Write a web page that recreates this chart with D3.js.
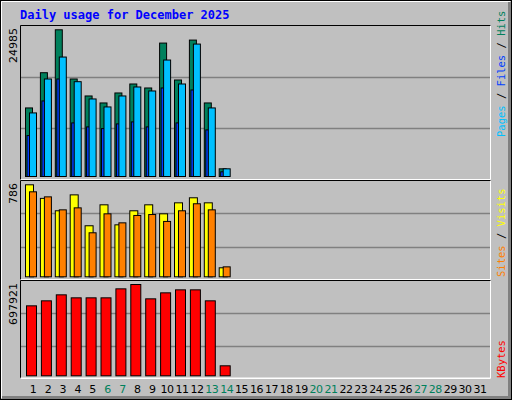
<!DOCTYPE html>
<html><head><meta charset="utf-8">
<script src="https://cdn.jsdelivr.net/npm/d3@7"></script>
<style>body{margin:0;background:#fff}svg{display:block}</style>
</head><body>
<script>
const days = d3.range(1, 32);
const weekendDays = [6,7,13,14,20,21,27,28];
const hits  = [11677,17676,24985,16606,13716,12526,14226,15756,15076,22724,16436,23234,12526,1309];
const pages = [10827,16606,20345,16147,13206,11847,13716,15246,14566,19835,15756,22554,11677,1309];
const files = [6969,12866,16606,9127,8447,8158,8957,9297,8447,15076,9127,14736,7937,799];
const visits = [786,670,564,700,436,615,444,564,615,538,632,675,632,77];
const sites  = [726,683,572,589,376,538,461,524,532,473,564,624,572,85];
const kbytes = [534870,573075,618921,595998,595998,595998,664767,697921,588357,634203,657126,657126,573075,76410];
const maxLabels = ["24985","786","697921"];

const W=512,H=400;
const svg=d3.select("body").append("svg").attr("width",W).attr("height",H);
// background and bevels
svg.append("rect").attr("x",0).attr("y",0).attr("width",W).attr("height",H).attr("fill","#c0c0c0");
svg.append("rect").attr("x",0.5).attr("y",0.5).attr("width",W-1).attr("height",H-1).attr("fill","none").attr("stroke","#000");
svg.append("path").attr("d","M1.5,398V1.5H510").attr("stroke","#fff").attr("fill","none");
svg.append("path").attr("d","M2,397.5H509.5V2").attr("stroke","#808080").attr("stroke-width",3).attr("fill","none");

svg.append("text").attr("x",20).attr("y",19).text("Daily usage for December 2025")
  .attr("fill","#0000ff").attr("font-family","DejaVu Sans Mono").attr("font-weight","bold").attr("font-size",12);

const x=d3.scaleLinear().domain([1,31]).range([33,480]);
const L=20,R=491;

const panels=[
 {top:25,bot:180,base:176,maxY:29.3,max:24985},
 {top:180,bot:280,base:276.3,maxY:184.3,max:786},
 {top:280,bot:378.5,base:375.3,maxY:284,max:697921}
];
panels.forEach((p,i)=>{
  p.y=d3.scaleLinear().domain([0,p.max]).range([p.base,p.maxY]);
  const g=svg.append("g");
  const h=p.bot-p.top;
  [1/3,2/3].forEach(f=>{
    const gy=Math.round(p.top+h*f)+0.5;
    g.append("line").attr("x1",L).attr("x2",R).attr("y1",gy).attr("y2",gy).attr("stroke","#808080").attr("stroke-width",1.5);
  });
  svg.append("text").attr("transform",`translate(${L-3},${p.top+3}) rotate(-90)`).attr("text-anchor","end")
    .attr("font-family","DejaVu Sans").attr("font-size",11).text(maxLabels[i]);
});

function bars(panel,data,dx,w,color){
  svg.append("g").selectAll("rect").data(data).join("rect")
   .attr("x",(d,i)=>x(i+1)+dx+0.5).attr("width",w)
   .attr("y",d=>panel.y(d)+0.5).attr("height",d=>panel.base-panel.y(d))
   .attr("fill",color).attr("stroke","#000").attr("stroke-width",1);
}
const P=panels;
bars(P[0],hits,-8,7,"#00805c");
bars(P[0],files,-6.5,3,"#0040ff");
bars(P[0],pages,-4,7,"#00c0ff");
bars(P[1],visits,-8,8,"#ffff00");
bars(P[1],sites,-4,7,"#ff8000");
bars(P[2],kbytes,-7,10,"#ff0000");

// panel frames
panels.forEach(p=>{
  svg.append("path").attr("d",`M${L+0.5},${p.bot}V${p.top+0.5}H${R}`).attr("stroke","#000").attr("fill","none");
  svg.append("path").attr("d",`M${L+0.5},${p.bot-0.5}H${R-0.5}V${p.top+0.5}`).attr("stroke","#fff").attr("fill","none");
});
svg.append("path").attr("d",`M${L+0.5},378.5H${R-0.5}`).attr("stroke","#fff");

svg.append("g").selectAll("text").data(days).join("text")
 .attr("x",d=>x(d)).attr("y",393).attr("text-anchor","middle")
 .attr("font-family","DejaVu Sans").attr("font-size",11).attr("letter-spacing",-0.5)
 .attr("fill",d=>weekendDays.includes(d)?"#00805c":"#000").text(d=>d);

function legend(yEnd,parts){
  const t=svg.append("text").attr("transform",`translate(505,${yEnd}) rotate(-90)`)
   .attr("font-family","DejaVu Sans Mono").attr("font-size",10.5);
  parts.forEach(([s,c])=>t.append("tspan").attr("fill",c).text(s));
}
legend(137,[["Pages","#00c0ff"],[" / ","#000"],["Files","#0040ff"],[" / ","#000"],["Hits","#00805c"]]);
legend(277,[["Sites","#ff8000"],[" / ","#000"],["Visits","#ffff00"]]);
legend(378,[["KBytes","#ff0000"]]);
</script>
</body></html>
